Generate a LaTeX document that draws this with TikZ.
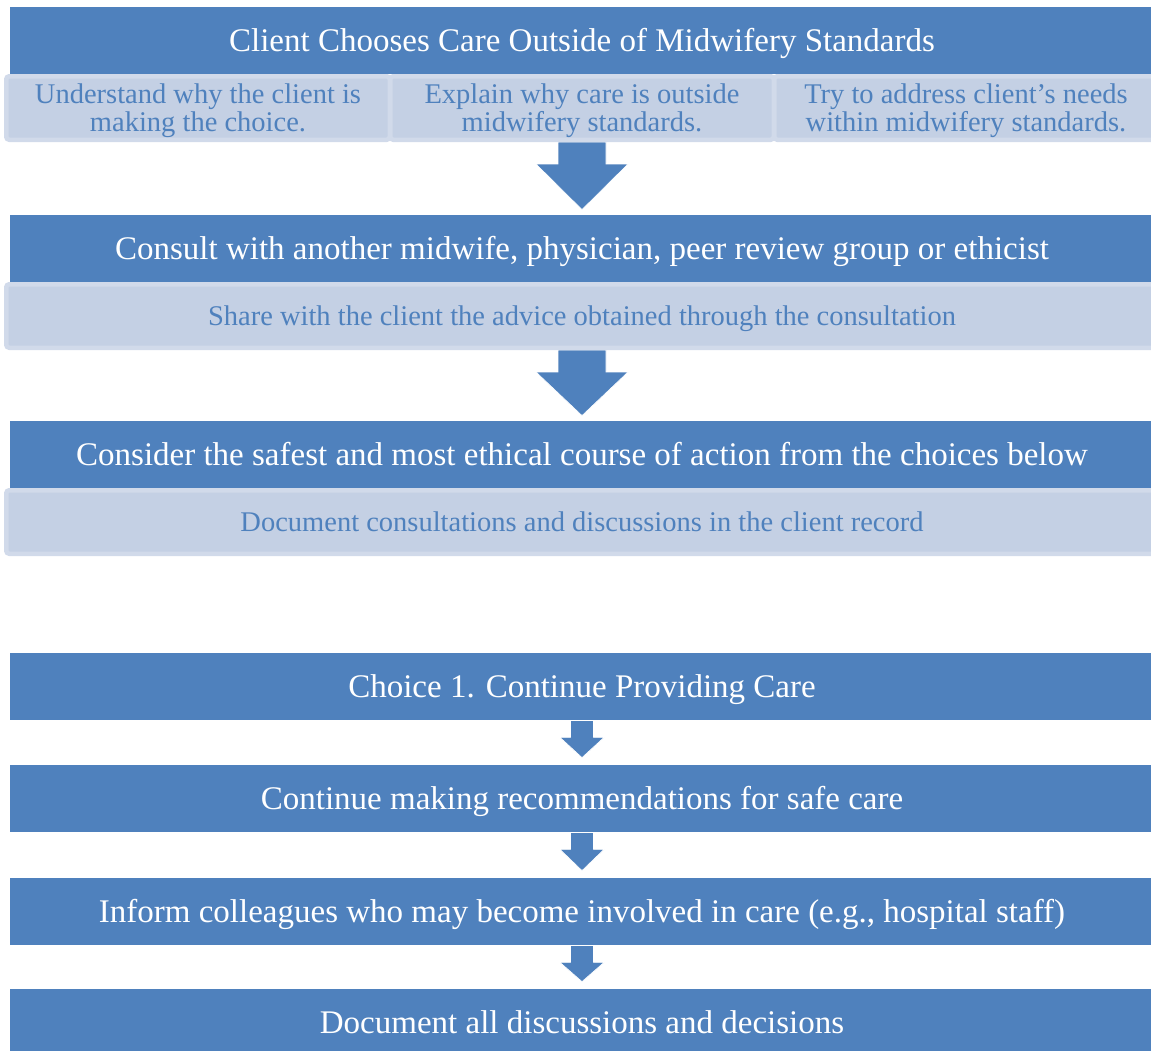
\documentclass[tikz,border=0pt]{standalone}
\usepackage{fontspec}
\setmainfont{Liberation Serif}
\usetikzlibrary{calc,backgrounds}
\definecolor{darkblue}{HTML}{4F81BD}
\definecolor{lightfill}{HTML}{C4D0E4}
\definecolor{lightedge}{HTML}{D1DAEA}
\definecolor{lighttext}{HTML}{4F81BD}
\newcommand{\mybigarrow}[2]{%
  \draw[arrowfill] ($(#1.south)+(-24,0)$) -- ($(#1.south)+(-24,22)$) -- ($(#1.south)+(-46,22)$)
    -- ($(#2.north)+(0,-4)$) -- ($(#1.south)+(46,22)$) -- ($(#1.south)+(24,22)$) -- ($(#1.south)+(24,0)$) -- cycle;}
\newcommand{\mysmallarrow}[2]{%
  \draw[arrowfill] ($(#1.south)+(-11.5,0)$) -- ($(#1.south)+(-11.5,17)$) -- ($(#1.south)+(-22,17)$)
    -- ($(#2.north)+(0,-6)$) -- ($(#1.south)+(22,17)$) -- ($(#1.south)+(11.5,17)$) -- ($(#1.south)+(11.5,0)$) -- cycle;}
\begin{document}
\begin{tikzpicture}[x=1pt,y=-1pt,
  darkbox/.style={fill=darkblue, draw=white, line width=0.8pt, minimum width=1146pt, minimum height=68pt,
    inner sep=0pt, text=white, font=\fontsize{33}{38}\selectfont, text height=22pt, text depth=0pt},
  lightbox/.style={fill=lightfill, draw=lightedge, line width=4.5pt, rounded corners=3pt, inner sep=0pt,
    text=lighttext, font=\fontsize{28.5}{28}\selectfont, align=center, minimum height=63.5pt},
  lightone/.style={lightbox, minimum width=1151.5pt, text height=19pt, text depth=0pt},
  lighttwo/.style={lightbox, minimum width=383.5pt, text height=46.5pt, text depth=0pt},
  arrowfill/.style={fill=darkblue, draw=white, line width=0.6pt}]
\useasboundingbox (0,0) rectangle (1151,1050);
\clip (0,0) rectangle (1151,1050);

\node[darkbox] (d1) at (582,40) {Client Chooses Care Outside of Midwifery Standards};
\node[darkbox] (d2) at (582,248) {Consult with another midwife, physician, peer review group or ethicist};
\node[darkbox] (d3) at (582,454) {Consider the safest and most ethical course of action from the choices below};
\node[darkbox] (d4) at (582,686) {Choice 1. Continue Providing Care};
\node[darkbox] (d5) at (582,798) {Continue making recommendations for safe care};
\node[darkbox] (d6) at (582,911) {Inform colleagues who may become involved in care (e.g., hospital staff)};
\node[darkbox] (d7) at (582,1022) {Document all discussions and decisions};

\node[lighttwo] (l1a) at (198,108) {Understand why the client is\\making the choice.};
\node[lighttwo] (l1b) at (582,108) {Explain why care is outside\\midwifery standards.};
\node[lighttwo] (l1c) at (966,108) {Try to address client’s needs\\within midwifery standards.};
\node[lightone] (l2) at (582,316) {Share with the client the advice obtained through the consultation};
\node[lightone] (l3) at (582,522) {Document consultations and discussions in the client record};

\begin{scope}[on background layer]
\fill[white] (0,0) rectangle (1151,1050);
\mybigarrow{l1b}{d2}
\mybigarrow{l2}{d3}
\mysmallarrow{d4}{d5}
\mysmallarrow{d5}{d6}
\mysmallarrow{d6}{d7}
\end{scope}
\end{tikzpicture}
\end{document}
